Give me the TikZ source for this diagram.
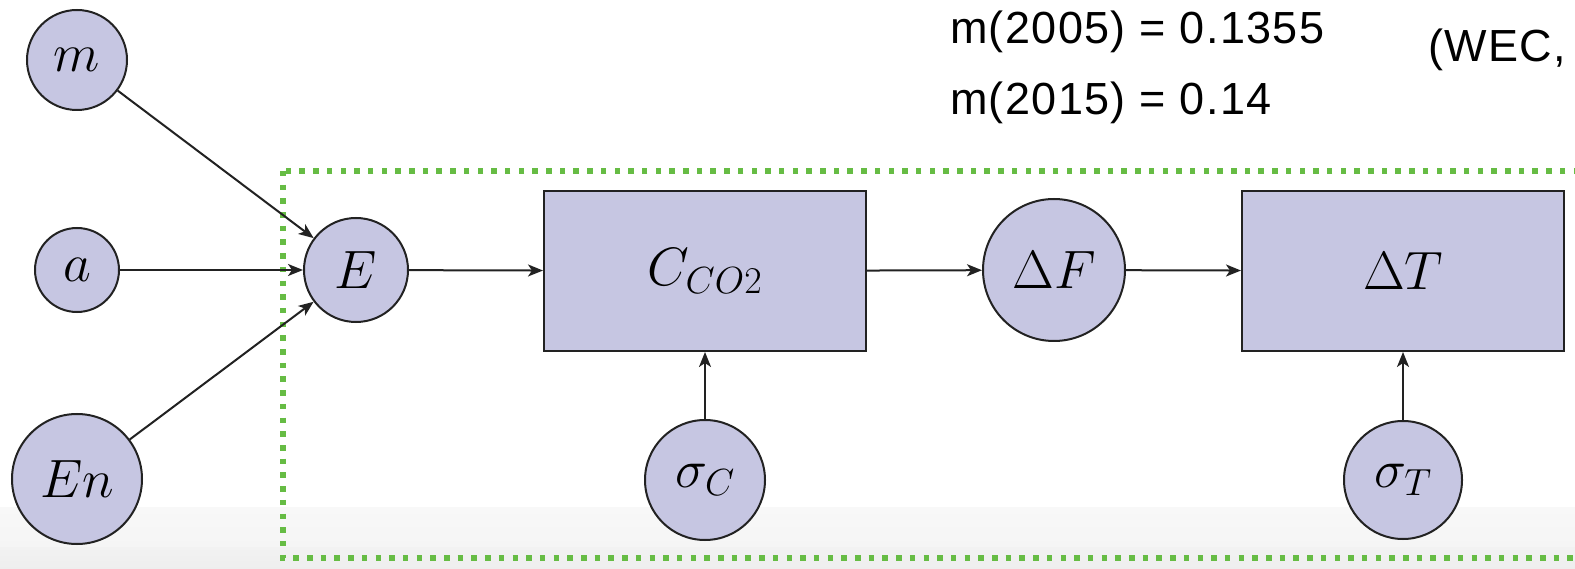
\RequirePackage{fix-cm}
\documentclass[tikz,border=0pt]{standalone}
\usepackage{fontspec}
\newfontfamily\labelfont[LetterSpace=3]{Liberation Sans}
\usetikzlibrary{arrows.meta}
\definecolor{nodefill}{RGB}{198,198,226}
\definecolor{edgegray}{RGB}{34,34,34}
\definecolor{boxgreen}{RGB}{102,188,68}
\definecolor{bandtop}{RGB}{248,248,248}
\definecolor{bandbot}{RGB}{238,238,238}

\begin{document}
\begin{tikzpicture}[x=1pt,y=-1pt,
  var/.style={circle, draw=edgegray, line width=2pt, fill=nodefill,
    inner sep=0pt, font=\fontsize{54}{60}\selectfont},
  block/.style={rectangle, draw=edgegray, line width=2pt, fill=nodefill,
    minimum width=322pt, minimum height=160pt, inner sep=0pt,
    font=\fontsize{54}{60}\selectfont},
  link/.style={draw=edgegray, line width=2pt,
    -{Stealth[length=15pt,width=12pt,inset=4pt]}},
  note/.style={font=\labelfont\fontsize{45}{50}\selectfont,
    anchor=base west, inner sep=0pt},
  frame/.style={boxgreen, line width=5.5pt, dash pattern=on 5.5pt off 8.2pt}
]
\useasboundingbox (0,0) rectangle (1575,569);
\clip (0,0) rectangle (1575,569);

% page background with the light band along the bottom
\fill[white] (0,0) rectangle (1575,569);
\shade[top color=bandtop, bottom color=bandtop!70!bandbot] (0,507) rectangle (1575,547);
\shade[top color=bandbot!60!bandtop, bottom color=bandbot] (0,547) rectangle (1575,569);

% dotted frame around the model part
\draw[frame] (283,171) rectangle (1640,558);

% annotations
\node[note] (m05) at (950,44) {m(2005) = 0.1355};
\node[note] (m15) at (950,115) {m(2015) = 0.14};
\node[note] (wec) at (1428,62) {(WEC,};

% variables
\node[var, minimum size=100pt] (m)  at (77,60)   {$m$};
\node[var, minimum size=84pt]  (a)  at (77,270)  {$a$};
\node[var, minimum size=130pt] (En) at (77,479)  {$En$};
\node[var, minimum size=104pt] (E)  at (356,270) {$E$};
\node[block] (C)  at (705,271) {$C_{CO2}$};
\node[var, minimum size=142pt] (dF) at (1054,270) {$\Delta F$};
\node[block] (dT) at (1403,271) {$\Delta T$};
\node[var, minimum size=120pt] (sC) at (705,480)  {$\sigma_C$};
\node[var, minimum size=118pt] (sT) at (1403,480) {$\sigma_T$};

% connectors
\draw[link] (m) -- (E);
\draw[link] (a) -- (E);
\draw[link] (En) -- (E);
\draw[link] (E) -- (C);
\draw[link] (C) -- (dF);
\draw[link] (dF) -- (dT);
\draw[link] (sC) -- (C);
\draw[link] (sT) -- (dT);
\end{tikzpicture}
\end{document}
